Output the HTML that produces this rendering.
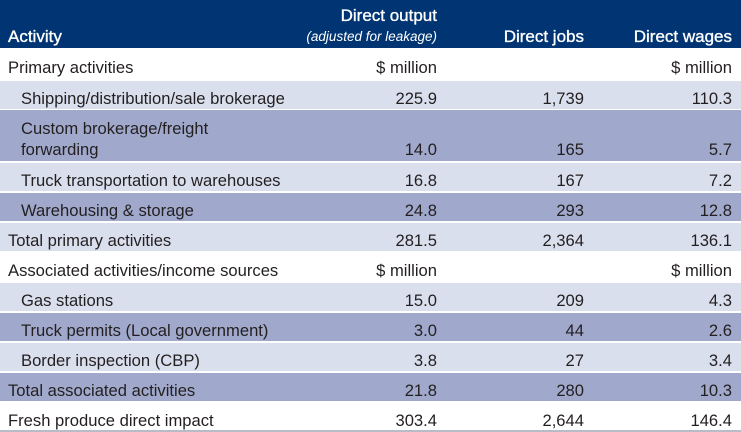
<!DOCTYPE html>
<html><head><meta charset="utf-8"><style>
body{margin:0;width:741px;height:432px;overflow:hidden;background:#fff;font-family:"Liberation Sans",sans-serif;color:#231f20;}
.r{position:absolute;left:0;width:741px;}
.t{position:absolute;font-size:16.6px;white-space:nowrap;}
.h{background:#003473;top:0;height:48px;color:#fff;}
.h .t{-webkit-text-stroke:0.35px #fff;font-size:17px}
.L{background:#dadfee}.D{background:#a0a9cc}
.c1{left:8px}.c1i{left:21px}
.n1{right:304px;text-align:right}.n2{right:157px;text-align:right}.n3{right:9px;text-align:right}
</style></head><body>
<div class="r h">
<div class="t c1" style="top:27px">Activity</div>
<div class="t n1" style="top:6px">Direct output</div>
<div class="t n1" style="top:29px;font-size:13.5px;font-style:italic;-webkit-text-stroke:0">(adjusted for leakage)</div>
<div class="t n2" style="top:27px">Direct jobs</div>
<div class="t n3" style="top:27px">Direct wages</div>
</div>
<div class="r" style="top:49px;height:31px"><div class="t c1" style="top:9px">Primary activities</div><div class="t n1" style="top:9px">$ million</div><div class="t n3" style="top:9px">$ million</div></div>
<div class="r L" style="top:81px;height:28px"><div class="t c1i" style="top:8px">Shipping/distribution/sale brokerage</div><div class="t n1" style="top:8px">225.9</div><div class="t n2" style="top:8px">1,739</div><div class="t n3" style="top:8px">110.3</div></div>
<div class="r D" style="top:110px;height:51px"><div class="t c1i" style="top:9px">Custom brokerage/freight</div><div class="t c1i" style="top:30px">forwarding</div><div class="t n1" style="top:30px">14.0</div><div class="t n2" style="top:30px">165</div><div class="t n3" style="top:30px">5.7</div></div>
<div class="r L" style="top:163px;height:28px"><div class="t c1i" style="top:8px">Truck transportation to warehouses</div><div class="t n1" style="top:8px">16.8</div><div class="t n2" style="top:8px">167</div><div class="t n3" style="top:8px">7.2</div></div>
<div class="r D" style="top:193px;height:28px"><div class="t c1i" style="top:8px">Warehousing &amp; storage</div><div class="t n1" style="top:8px">24.8</div><div class="t n2" style="top:8px">293</div><div class="t n3" style="top:8px">12.8</div></div>
<div class="r L" style="top:223px;height:28px"><div class="t c1" style="top:8px">Total primary activities</div><div class="t n1" style="top:8px">281.5</div><div class="t n2" style="top:8px">2,364</div><div class="t n3" style="top:8px">136.1</div></div>
<div class="r" style="top:253px;height:28px"><div class="t c1" style="top:8px">Associated activities/income sources</div><div class="t n1" style="top:8px">$ million</div><div class="t n3" style="top:8px">$ million</div></div>
<div class="r L" style="top:283px;height:28px"><div class="t c1i" style="top:8px">Gas stations</div><div class="t n1" style="top:8px">15.0</div><div class="t n2" style="top:8px">209</div><div class="t n3" style="top:8px">4.3</div></div>
<div class="r D" style="top:313px;height:28px"><div class="t c1i" style="top:8px">Truck permits (Local government)</div><div class="t n1" style="top:8px">3.0</div><div class="t n2" style="top:8px">44</div><div class="t n3" style="top:8px">2.6</div></div>
<div class="r L" style="top:343px;height:28px"><div class="t c1i" style="top:8px">Border inspection (CBP)</div><div class="t n1" style="top:8px">3.8</div><div class="t n2" style="top:8px">27</div><div class="t n3" style="top:8px">3.4</div></div>
<div class="r D" style="top:373px;height:28px"><div class="t c1" style="top:8px">Total associated activities</div><div class="t n1" style="top:8px">21.8</div><div class="t n2" style="top:8px">280</div><div class="t n3" style="top:8px">10.3</div></div>
<div class="r" style="top:403px;height:27px;border-bottom:2px solid #b8bcc8"><div class="t c1" style="top:8px">Fresh produce direct impact</div><div class="t n1" style="top:8px">303.4</div><div class="t n2" style="top:8px">2,644</div><div class="t n3" style="top:8px">146.4</div></div>
</body></html>
